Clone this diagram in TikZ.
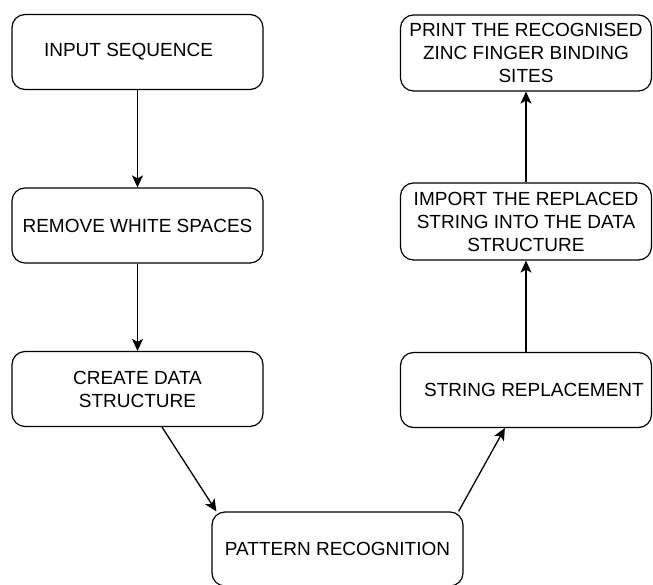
\documentclass[tikz,border=0pt]{standalone}
\usepackage{fontspec}
\setmainfont{Liberation Sans}
\usetikzlibrary{arrows.meta}

\tikzset{stepbox/.style={draw, line width=1.2pt, rounded corners=13pt, minimum width=251pt,
  minimum height=75pt, inner xsep=2pt, align=center, font=\fontsize{19}{23}\selectfont},
  flow/.style={-{Stealth[length=12pt,width=11pt,inset=3pt]}, line width=1.3pt}}

\begin{document}
\begin{tikzpicture}[x=1pt,y=-1pt]
\useasboundingbox (0,0) rectangle (653,585);
\node [stepbox] (input) at (137.5,52) {INPUT SEQUENCE\hspace*{18pt}};
\node [stepbox] (remove) at (137.5,225.5) {REMOVE WHITE SPACES};
\node [stepbox] (create) at (137.5,389) {CREATE DATA\\STRUCTURE};
\node [stepbox, minimum height=74pt] (pattern) at (337.5,549) {PATTERN RECOGNITION};
\node [stepbox] (replace) at (526,390) {\hspace*{16pt}STRING REPLACEMENT};
\node [stepbox, minimum height=77pt] (import) at (526,221.5) {IMPORT THE REPLACED\\STRING INTO THE DATA\\STRUCTURE};
\node [stepbox, minimum height=76pt] (print) at (526,53) {PRINT THE RECOGNISED\\ZINC FINGER BINDING\\SITES};
\draw [flow] (input) -- (remove) ;
\draw [flow] (remove) -- (create) ;
\draw [flow] (create) -- ([xshift=5pt]pattern.north west) ;
\draw [flow] ([xshift=-5pt]pattern.north east) -- (replace) ;
\draw [flow] (replace) -- (import) ;
\draw [flow] (import) -- (print) ;
\end{tikzpicture}
\end{document}
